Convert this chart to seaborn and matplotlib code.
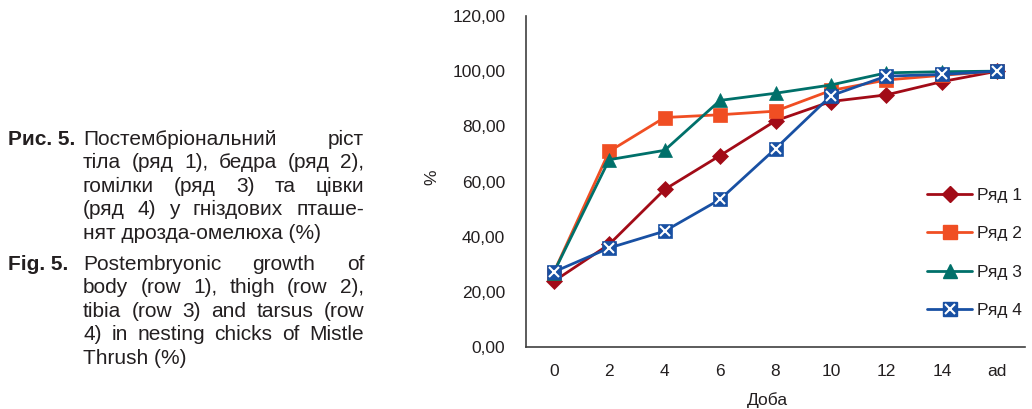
import matplotlib
matplotlib.use("Agg")
import matplotlib.pyplot as plt
from matplotlib.lines import Line2D
from matplotlib.legend_handler import HandlerTuple
from matplotlib.ticker import FixedLocator, FuncFormatter
import seaborn as sns
import pandas as pd
import numpy as np

# ---- data ----
days = ["0", "2", "4", "6", "8", "10", "12", "14", "ad"]
row1 = [23.8, 37.2, 57.1, 69.4, 82.0, 89.0, 91.4, 96.2, 100.0]
row2 = [27.0, 70.9, 83.2, 84.2, 85.5, 93.0, 96.8, 98.5, 100.0]
row3 = [27.0, 67.9, 71.3, 89.4, 92.0, 95.0, 99.4, 99.8, 100.0]
row4 = [27.2, 35.9, 42.0, 53.5, 71.9, 91.1, 98.2, 98.8, 100.0]
series_names = ["Ряд 1", "Ряд 2", "Ряд 3", "Ряд 4"]
yticks = [0, 20, 40, 60, 80, 100, 120]

colors = {"Ряд 1": "#A20B17", "Ряд 2": "#F04E23", "Ряд 3": "#00706A", "Ряд 4": "#1850A3"}
markers = {"Ряд 1": "D", "Ряд 2": "s", "Ряд 3": "^", "Ряд 4": "s"}
msizes = {"Ряд 1": 8.5, "Ряд 2": 10, "Ряд 3": 10, "Ряд 4": 10.5}

sns.set_style("white")
plt.rcParams["font.family"] = ["Liberation Sans", "DejaVu Sans"]
TXT = "#231F20"
FS = 12.5

rows = []
for name, vals in zip(series_names, [row1, row2, row3, row4]):
    for i, (d, v) in enumerate(zip(days, vals)):
        rows.append({"pos": i, "day": d, "value": v, "series": name})
df = pd.DataFrame(rows)

fig = plt.figure(figsize=(10.32, 4.09), dpi=100)
W, H = 1032, 409
AX_L, AX_R, AX_T, AX_B = 526, 1025, 16, 347
ax = fig.add_axes([AX_L / W, 1 - AX_B / H, (AX_R - AX_L) / W, (AX_B - AX_T) / H])

for name in series_names:
    sub = df[df["series"] == name]
    sns.lineplot(data=sub, x="pos", y="value", ax=ax, color=colors[name],
                 marker=markers[name], markersize=msizes[name],
                 markeredgecolor=colors[name], markeredgewidth=0.5,
                 linewidth=2.0, legend=False, zorder=3)
    if name == "Ряд 4":
        sns.lineplot(data=sub, x="pos", y="value", ax=ax, color="white",
                     marker="x", markersize=7.5, markeredgecolor="white",
                     markeredgewidth=1.5, linewidth=0, legend=False, zorder=4)

ax.set_xlim(-0.5, len(days) - 0.5)
ax.set_ylim(0, 120)

# x ticks at boundaries, labels at centers
ax.xaxis.set_major_locator(FixedLocator(np.arange(len(days) + 1) - 0.5))
ax.xaxis.set_major_formatter(FuncFormatter(lambda v, p: ""))
ax.xaxis.set_minor_locator(FixedLocator(np.arange(len(days))))
ax.xaxis.set_minor_formatter(FuncFormatter(lambda v, p: days[int(round(v))]))
ax.tick_params(axis="x", which="major", direction="out", length=5, width=1.2, color="#404040")
ax.tick_params(axis="x", which="minor", length=0, pad=12, labelsize=FS, labelcolor=TXT)

ax.set_yticks(yticks)
ax.yaxis.set_major_formatter(FuncFormatter(lambda v, p: f"{v:.2f}".replace(".", ",")))
ax.tick_params(axis="y", direction="out", length=6, width=1.2, color="#404040",
               pad=9, labelsize=FS, labelcolor=TXT)

for s in ["top", "right"]:
    ax.spines[s].set_visible(False)
for s in ["left", "bottom"]:
    ax.spines[s].set_color("#404040")
    ax.spines[s].set_linewidth(1.2)

AXW, AXH = AX_R - AX_L, AX_B - AX_T
ax.set_xlabel("Доба", fontsize=FS, color=TXT)
ax.xaxis.label.set_va("center")
ax.xaxis.set_label_coords((767 - AX_L) / AXW, (AX_B - 400) / AXH)
ax.set_ylabel("%", fontsize=FS, color=TXT)
ax.yaxis.label.set_va("center")
ax.yaxis.set_label_coords((432 - AX_L) / AXW, (AX_B - 177) / AXH)

# legend
handles = []
for name in series_names:
    h = Line2D([], [], color=colors[name], marker=markers[name], markersize=msizes[name],
               markeredgecolor=colors[name], linewidth=2.0)
    if name == "Ряд 4":
        hx = Line2D([], [], color="none", marker="x", markersize=7.5,
                    markeredgecolor="white", markeredgewidth=1.5, linewidth=0)
        h = (h, hx)
    handles.append(h)
leg = fig.legend(handles, series_names, loc="upper left",
                 bbox_to_anchor=(927 / W, 1 - 188 / H), frameon=False,
                 fontsize=FS, handlelength=2.6, handletextpad=0.3,
                 labelspacing=1.33, borderpad=0, borderaxespad=0,
                 handler_map={tuple: HandlerTuple(ndivide=1, pad=0)})
for t in leg.get_texts():
    t.set_color(TXT)

# caption
fig.canvas.draw()
renderer = fig.canvas.get_renderer()
CAP_FS = 15
X_LEFT = 83
X_RIGHT = 364


def text_px(x, y, s, **kw):
    return fig.text(x / W, 1 - y / H, s, fontsize=CAP_FS, color=TXT, va="baseline", ha="left", **kw)


def place_line(y, line, justify):
    words = line.split()
    if not justify or len(words) == 1:
        text_px(X_LEFT, y, line)
        return
    widths = []
    for w in words:
        t = text_px(0, y, w)
        bb = t.get_window_extent(renderer)
        widths.append(bb.width)
        t.remove()
    gap = (X_RIGHT - X_LEFT - sum(widths)) / (len(words) - 1)
    x = X_LEFT
    for w, wd in zip(words, widths):
        text_px(x, y, w)
        x += wd + gap


ua_lines = [("Постембріональний ріст", True),
            ("тіла (ряд 1), бедра (ряд 2),", True),
            ("гомілки (ряд 3) та цівки", True),
            ("(ряд 4) у гніздових пташе-", True),
            ("нят дрозда-омелюха (%)", False)]
en_lines = [("Postembryonic growth of", True),
            ("body (row 1), thigh (row 2),", True),
            ("tibia (row 3) and tarsus (row", True),
            ("4) in nesting chicks of Mistle", True),
            ("Thrush (%)", False)]
LS = 23.4
y0 = 145
for i, (ln, j) in enumerate(ua_lines):
    place_line(y0 + i * LS, ln, j)
text_px(8, y0, "Рис. 5.", fontweight="bold")
y1 = 270
for i, (ln, j) in enumerate(en_lines):
    place_line(y1 + i * LS, ln, j)
text_px(8, y1, "Fig. 5.", fontweight="bold")

fig.savefig("out.png", dpi=100)
